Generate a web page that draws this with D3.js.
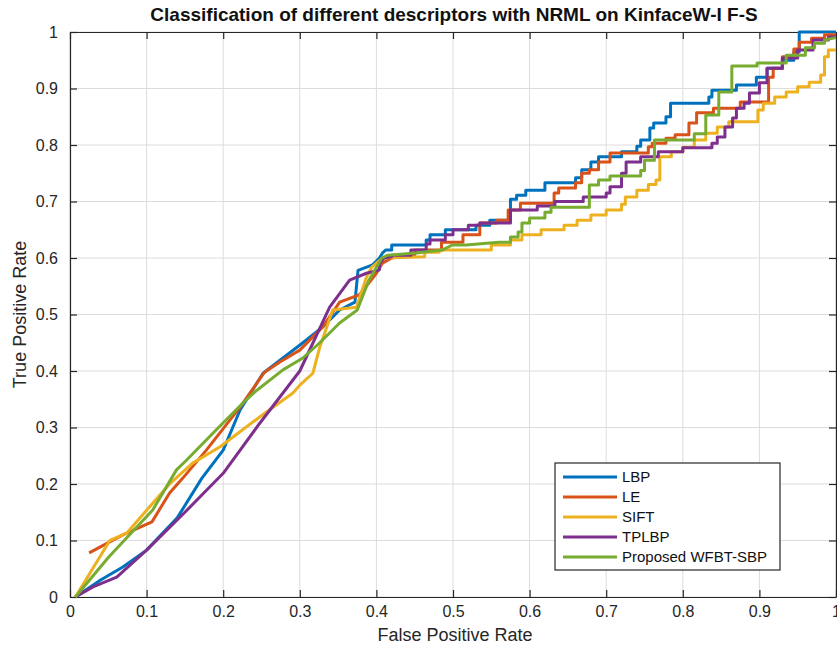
<!DOCTYPE html>
<html>
<head>
<meta charset="utf-8">
<script src="https://cdn.jsdelivr.net/npm/d3@7"></script>
<style>
  body { margin: 0; background: #fff; }
  svg { display: block; font-family: "Liberation Sans", Arial, sans-serif; }
</style>
</head>
<body>
<svg id="chart" width="837" height="648"></svg>
<script>
// ROC points [false positive rate, true positive rate].
const lbp = [[0.007,0],[0.04,0.03],[0.069,0.053],[0.1,0.083],[0.14,0.14],[0.172,0.21],[0.2,0.26],[0.222,0.331],[0.252,0.396],[0.304,0.45],[0.33,0.478],[0.352,0.508],[0.372,0.522],[0.376,0.578],[0.395,0.588],[0.404,0.6],[0.408,0.609],[0.412,0.614],[0.42,0.614],[0.42,0.623],[0.465,0.623],[0.465,0.632],[0.47,0.632],[0.47,0.641],[0.49,0.641],[0.49,0.65],[0.53,0.65],[0.53,0.658],[0.548,0.658],[0.548,0.667],[0.575,0.667],[0.575,0.704],[0.583,0.704],[0.583,0.711],[0.595,0.711],[0.595,0.72],[0.62,0.72],[0.62,0.733],[0.66,0.733],[0.66,0.742],[0.668,0.742],[0.668,0.756],[0.68,0.756],[0.68,0.77],[0.69,0.77],[0.69,0.779],[0.72,0.779],[0.72,0.788],[0.74,0.788],[0.74,0.798],[0.745,0.798],[0.745,0.809],[0.757,0.809],[0.757,0.83],[0.762,0.83],[0.762,0.839],[0.778,0.839],[0.778,0.85],[0.784,0.85],[0.784,0.874],[0.834,0.874],[0.834,0.885],[0.838,0.885],[0.838,0.897],[0.87,0.897],[0.87,0.906],[0.896,0.906],[0.896,0.92],[0.91,0.92],[0.91,0.936],[0.93,0.936],[0.93,0.95],[0.945,0.95],[0.945,0.965],[0.952,0.965],[0.952,1],[1,1]];
const le = [[0.025,0.078],[0.069,0.11],[0.107,0.133],[0.13,0.184],[0.147,0.21],[0.178,0.26],[0.222,0.336],[0.254,0.398],[0.274,0.416],[0.3,0.437],[0.33,0.478],[0.352,0.522],[0.378,0.535],[0.4,0.573],[0.408,0.591],[0.42,0.6],[0.45,0.605],[0.45,0.614],[0.485,0.614],[0.485,0.628],[0.513,0.628],[0.513,0.641],[0.535,0.641],[0.535,0.662],[0.557,0.662],[0.557,0.667],[0.572,0.667],[0.572,0.685],[0.588,0.685],[0.588,0.697],[0.632,0.697],[0.632,0.715],[0.638,0.715],[0.638,0.724],[0.66,0.724],[0.66,0.733],[0.668,0.733],[0.668,0.75],[0.678,0.75],[0.678,0.756],[0.69,0.756],[0.69,0.77],[0.705,0.77],[0.705,0.786],[0.755,0.786],[0.755,0.797],[0.76,0.797],[0.76,0.803],[0.778,0.803],[0.778,0.812],[0.79,0.812],[0.79,0.818],[0.808,0.818],[0.808,0.839],[0.818,0.839],[0.818,0.857],[0.84,0.857],[0.84,0.865],[0.875,0.865],[0.875,0.876],[0.912,0.876],[0.912,0.92],[0.918,0.92],[0.918,0.936],[0.93,0.936],[0.93,0.956],[0.945,0.956],[0.945,0.97],[0.952,0.97],[0.952,0.982],[0.968,0.982],[0.968,0.989],[0.985,0.989],[0.985,0.995],[1,0.995]];
const sift = [[0.007,0],[0.052,0.1],[0.074,0.113],[0.108,0.166],[0.13,0.2],[0.16,0.237],[0.196,0.266],[0.248,0.319],[0.291,0.361],[0.3,0.375],[0.317,0.396],[0.326,0.442],[0.343,0.508],[0.374,0.513],[0.387,0.566],[0.394,0.584],[0.408,0.6],[0.463,0.602],[0.463,0.61],[0.482,0.61],[0.482,0.614],[0.55,0.614],[0.55,0.623],[0.575,0.623],[0.575,0.632],[0.59,0.632],[0.59,0.641],[0.615,0.641],[0.615,0.65],[0.645,0.65],[0.645,0.658],[0.662,0.658],[0.662,0.667],[0.68,0.667],[0.68,0.676],[0.7,0.676],[0.7,0.685],[0.72,0.685],[0.72,0.695],[0.725,0.695],[0.725,0.708],[0.74,0.708],[0.74,0.72],[0.755,0.72],[0.755,0.73],[0.765,0.73],[0.765,0.738],[0.77,0.738],[0.77,0.779],[0.785,0.779],[0.785,0.788],[0.8,0.788],[0.8,0.796],[0.815,0.796],[0.815,0.809],[0.83,0.809],[0.83,0.821],[0.845,0.821],[0.845,0.832],[0.86,0.832],[0.86,0.841],[0.898,0.841],[0.898,0.862],[0.905,0.862],[0.905,0.874],[0.92,0.874],[0.92,0.885],[0.935,0.885],[0.935,0.894],[0.95,0.894],[0.95,0.903],[0.965,0.903],[0.965,0.911],[0.98,0.911],[0.98,0.924],[0.985,0.924],[0.985,0.956],[0.99,0.956],[0.99,0.968],[1,0.968]];
const tplbp = [[0.007,0],[0.03,0.018],[0.061,0.035],[0.074,0.051],[0.1,0.083],[0.15,0.15],[0.2,0.219],[0.248,0.308],[0.3,0.4],[0.339,0.513],[0.365,0.561],[0.387,0.573],[0.404,0.579],[0.404,0.59],[0.41,0.6],[0.42,0.602],[0.42,0.605],[0.445,0.605],[0.445,0.614],[0.465,0.614],[0.465,0.625],[0.47,0.625],[0.47,0.632],[0.49,0.632],[0.49,0.641],[0.5,0.641],[0.5,0.65],[0.52,0.65],[0.52,0.658],[0.535,0.658],[0.535,0.662],[0.575,0.662],[0.575,0.685],[0.61,0.685],[0.61,0.692],[0.633,0.692],[0.633,0.7],[0.67,0.7],[0.67,0.708],[0.7,0.708],[0.7,0.715],[0.705,0.715],[0.705,0.726],[0.72,0.726],[0.72,0.75],[0.726,0.75],[0.726,0.77],[0.745,0.77],[0.745,0.779],[0.768,0.779],[0.768,0.788],[0.8,0.788],[0.8,0.795],[0.838,0.795],[0.838,0.803],[0.845,0.803],[0.845,0.814],[0.855,0.814],[0.855,0.832],[0.865,0.832],[0.865,0.848],[0.87,0.848],[0.87,0.865],[0.88,0.865],[0.88,0.874],[0.887,0.874],[0.887,0.892],[0.9,0.892],[0.9,0.91],[0.91,0.91],[0.91,0.936],[0.93,0.936],[0.93,0.954],[0.95,0.954],[0.95,0.968],[0.97,0.968],[0.97,0.986],[0.99,0.986],[0.99,0.991],[1,0.991]];
const wfbt = [[0.007,0],[0.05,0.07],[0.108,0.154],[0.139,0.225],[0.152,0.242],[0.191,0.296],[0.23,0.349],[0.244,0.366],[0.278,0.402],[0.304,0.423],[0.326,0.45],[0.352,0.485],[0.375,0.508],[0.39,0.56],[0.407,0.6],[0.415,0.605],[0.452,0.609],[0.486,0.614],[0.499,0.623],[0.517,0.623],[0.56,0.628],[0.575,0.628],[0.575,0.637],[0.585,0.637],[0.585,0.646],[0.59,0.646],[0.59,0.662],[0.6,0.662],[0.6,0.671],[0.62,0.671],[0.62,0.681],[0.628,0.681],[0.628,0.69],[0.678,0.69],[0.678,0.729],[0.69,0.729],[0.69,0.738],[0.705,0.738],[0.705,0.745],[0.745,0.745],[0.745,0.755],[0.75,0.755],[0.75,0.773],[0.763,0.773],[0.763,0.809],[0.815,0.809],[0.815,0.82],[0.83,0.82],[0.83,0.853],[0.847,0.853],[0.847,0.894],[0.864,0.894],[0.864,0.94],[0.897,0.94],[0.897,0.945],[0.935,0.945],[0.935,0.959],[0.96,0.959],[0.96,0.972],[0.972,0.972],[0.972,0.98],[0.985,0.98],[0.985,0.986],[1,0.99]];

const seriesNames = ['LBP', 'LE', 'SIFT', 'TPLBP', 'Proposed WFBT-SBP'];
const seriesData = [lbp, le, sift, tplbp, wfbt];
const seriesColors = ['#0072BD', '#D95319', '#EDB120', '#7E2F8E', '#77AC30'];
const tickValues = [0, 0.1, 0.2, 0.3, 0.4, 0.5, 0.6, 0.7, 0.8, 0.9, 1];

const svg = d3.select('#chart');
const width = 837, height = 648;
const margin = { top: 32, right: 1, bottom: 51, left: 70 };

svg.append('rect').attr('width', width).attr('height', height).attr('fill', '#fff');

// Scales.
const xScale = d3.scaleLinear().domain([0, 1]).range([margin.left, width - margin.right]);
const yScale = d3.scaleLinear().domain([0, 1]).range([height - margin.bottom, margin.top]);

// Grid.
const grid = svg.append('g').attr('stroke', '#dcdcdc').attr('stroke-width', 1);
tickValues.forEach(t => {
  grid.append('line')
    .attr('x1', xScale(t)).attr('x2', xScale(t))
    .attr('y1', yScale(0)).attr('y2', yScale(1));
  grid.append('line')
    .attr('x1', xScale(0)).attr('x2', xScale(1))
    .attr('y1', yScale(t)).attr('y2', yScale(t));
});

const fmt = d => d === 0 || d === 1 ? String(d) : d3.format('.1f')(d);

// Axes, MATLAB style with inward ticks.
const styleAxis = g => {
  g.select('.domain').attr('stroke', '#262626').attr('stroke-width', 1.2);
  g.selectAll('.tick line').attr('stroke', '#262626').attr('stroke-width', 1.2);
  g.selectAll('.tick text').attr('fill', '#262626').attr('font-size', 16);
};

svg.append('g')
  .attr('transform', `translate(0,${yScale(0)})`)
  .call(d3.axisBottom(xScale).tickValues(tickValues).tickFormat(fmt).tickSizeInner(-7).tickSizeOuter(0).tickPadding(9))
  .call(styleAxis);

svg.append('g')
  .attr('transform', `translate(0,${yScale(1)})`)
  .call(d3.axisTop(xScale).tickValues(tickValues).tickFormat('').tickSizeInner(-7).tickSizeOuter(0))
  .call(styleAxis);

svg.append('g')
  .attr('transform', `translate(${xScale(0)},0)`)
  .call(d3.axisLeft(yScale).tickValues(tickValues).tickFormat(fmt).tickSizeInner(-7).tickSizeOuter(0).tickPadding(12))
  .call(styleAxis);

svg.append('g')
  .attr('transform', `translate(${xScale(1)},0)`)
  .call(d3.axisRight(yScale).tickValues(tickValues).tickFormat('').tickSizeInner(-7).tickSizeOuter(0))
  .call(styleAxis);

// Curves.
const line = d3.line().x(d => xScale(d[0])).y(d => yScale(d[1]));
seriesData.forEach((data, i) => {
  svg.append('path')
    .datum(data)
    .attr('fill', 'none')
    .attr('stroke', seriesColors[i])
    .attr('stroke-width', 3)
    .attr('stroke-linejoin', 'round')
    .attr('d', line);
});

// Title and axis labels.
svg.append('text')
  .attr('x', 454).attr('y', 21)
  .attr('text-anchor', 'middle')
  .attr('font-size', 19).attr('font-weight', 'bold')
  .attr('fill', '#111')
  .text('Classification of different descriptors with NRML on KinfaceW-I F-S');

svg.append('text')
  .attr('x', 455).attr('y', 641)
  .attr('text-anchor', 'middle')
  .attr('font-size', 18).attr('fill', '#262626')
  .text('False Positive Rate');

svg.append('text')
  .attr('transform', `translate(26,${yScale(0.5)}) rotate(-90)`)
  .attr('text-anchor', 'middle')
  .attr('font-size', 18).attr('fill', '#262626')
  .text('True Positive Rate');

// Legend.
const legend = svg.append('g').attr('transform', 'translate(555,463)');
legend.append('rect')
  .attr('width', 225).attr('height', 107)
  .attr('fill', '#fff').attr('stroke', '#262626').attr('stroke-width', 1.2);
seriesNames.forEach((name, i) => {
  const y = 14 + i * 20;
  legend.append('line')
    .attr('x1', 8).attr('x2', 62).attr('y1', y).attr('y2', y)
    .attr('stroke', seriesColors[i]).attr('stroke-width', 3);
  legend.append('text')
    .attr('x', 67).attr('y', y + 5)
    .attr('font-size', 15).attr('fill', '#111')
    .text(name);
});
</script>
</body>
</html>
